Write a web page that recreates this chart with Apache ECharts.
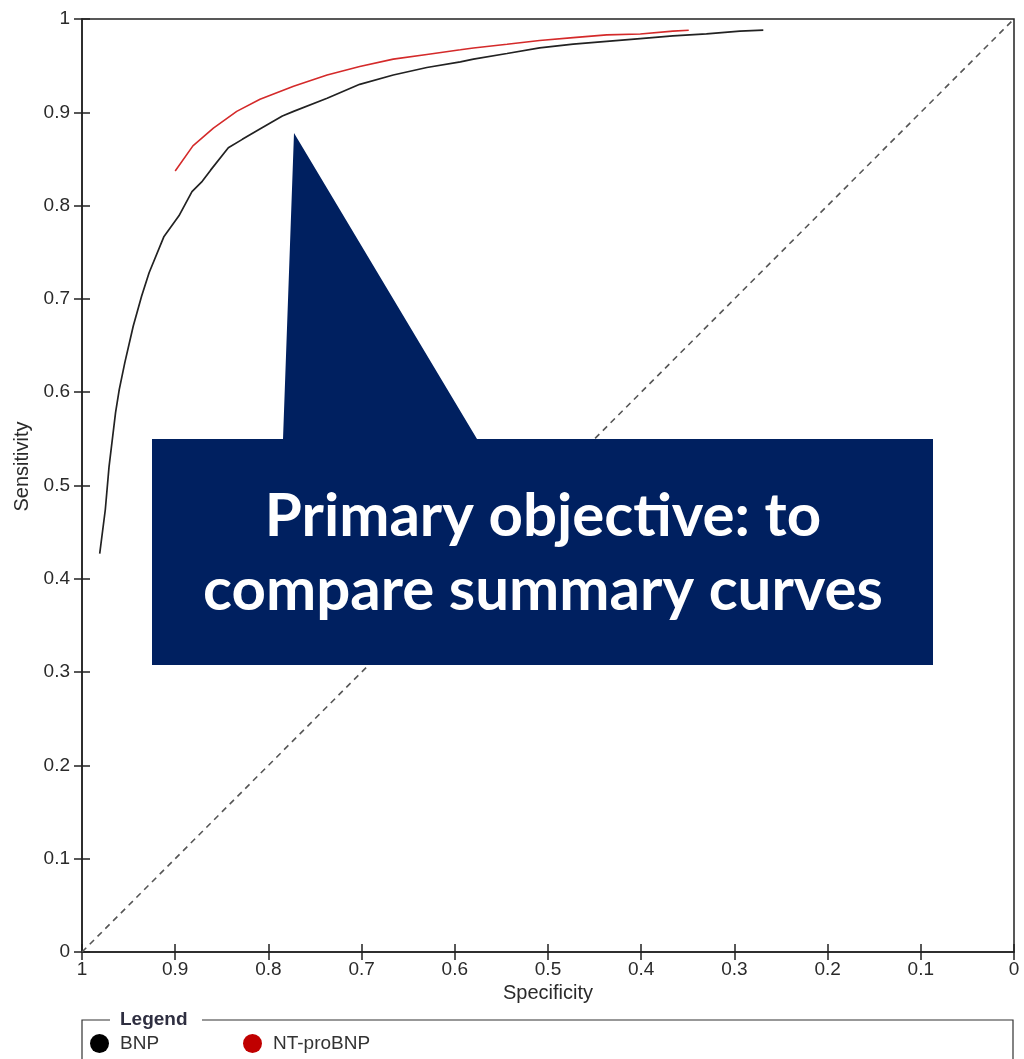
<!DOCTYPE html>
<html>
<head>
<meta charset="utf-8">
<script src="https://cdn.jsdelivr.net/npm/echarts@6/dist/echarts.min.js"></script>
<style>
  html, body { margin: 0; padding: 0; background: #fff; }
  #chart { width: 1024px; height: 1059px; }
</style>
</head>
<body>
<div id="chart"></div>
<script>
// Summary ROC curves: [specificity, sensitivity]
const bnpCurve = [
  [0.981, 0.427], [0.975, 0.474], [0.971, 0.520], [0.964, 0.578], [0.960, 0.603],
  [0.954, 0.632], [0.945, 0.671], [0.936, 0.703], [0.928, 0.728], [0.912, 0.767],
  [0.896, 0.789], [0.882, 0.815], [0.871, 0.826], [0.862, 0.838], [0.843, 0.862],
  [0.828, 0.871], [0.811, 0.881], [0.785, 0.896], [0.773, 0.901], [0.737, 0.915],
  [0.702, 0.930], [0.666, 0.940], [0.630, 0.948], [0.594, 0.954], [0.580, 0.957],
  [0.544, 0.963], [0.509, 0.969], [0.473, 0.973], [0.437, 0.976], [0.401, 0.979],
  [0.366, 0.982], [0.330, 0.984], [0.294, 0.987], [0.269, 0.988]
];
const ntProBnpCurve = [
  [0.900, 0.837], [0.881, 0.864], [0.859, 0.883], [0.834, 0.901], [0.809, 0.914],
  [0.773, 0.928], [0.737, 0.940], [0.702, 0.949], [0.666, 0.957], [0.630, 0.962],
  [0.594, 0.967], [0.580, 0.969], [0.544, 0.973], [0.509, 0.977], [0.473, 0.980],
  [0.437, 0.983], [0.401, 0.984], [0.366, 0.987], [0.349, 0.988]
];
// Line of no discrimination
const chanceLine = [[1, 0], [0, 1]];
const seriesNames = ['BNP', 'NT-proBNP'];
const calloutLines = ['Primary objective: to', 'compare summary curves'];

const chart = echarts.init(document.getElementById('chart'), null, { renderer: 'canvas' });

const GRID = { left: 82, right: 10, top: 19, bottom: 107 };
const FONT = '"Liberation Sans", Arial, sans-serif';
const AXIS_COLOR = '#222';
const TEXT_COLOR = '#2a2a2a';

function tickLabel(v) {
  return String(Math.round(v * 10) / 10);
}

function valueAxis(extra) {
  return Object.assign({
    type: 'value', min: 0, max: 1, interval: 0.1,
    splitLine: { show: false }
  }, extra);
}

const tickStyle = { color: AXIS_COLOR, width: 1.5 };

function legendFor(name, left) {
  return {
    left: left, top: 1034, padding: 0,
    icon: 'circle', itemWidth: 19, itemHeight: 19, itemGap: 0,
    textStyle: { fontFamily: FONT, fontSize: 19, color: '#333', padding: [0, 0, 0, 6] },
    data: [name]
  };
}

const option = {
  animation: false,
  backgroundColor: '#fff',
  // Two identical grids: the first carries the data and the outward ticks,
  // the second only adds inward ticks so every tick crosses the axis line.
  grid: [
    {
      left: GRID.left, right: GRID.right, top: GRID.top, bottom: GRID.bottom,
      show: true, borderColor: AXIS_COLOR, borderWidth: 1.5, backgroundColor: 'transparent'
    },
    { left: GRID.left, right: GRID.right, top: GRID.top, bottom: GRID.bottom }
  ],
  legend: [legendFor(seriesNames[0], 90), legendFor(seriesNames[1], 243)],
  xAxis: [
    valueAxis({
      gridIndex: 0, inverse: true, position: 'bottom',
      name: 'Specificity', nameLocation: 'middle', nameGap: 31,
      nameTextStyle: { fontFamily: FONT, fontSize: 20, color: TEXT_COLOR },
      axisLine: { show: true, onZero: false, lineStyle: { color: AXIS_COLOR, width: 1.5 } },
      axisTick: { show: true, inside: false, length: 8, lineStyle: tickStyle },
      axisLabel: { margin: 8, fontFamily: FONT, fontSize: 19, color: TEXT_COLOR, formatter: tickLabel }
    }),
    valueAxis({
      gridIndex: 1, inverse: true, position: 'bottom',
      axisLine: { show: false, onZero: false },
      axisTick: { show: true, inside: true, length: 8, lineStyle: tickStyle },
      axisLabel: { show: false }
    })
  ],
  yAxis: [
    valueAxis({
      gridIndex: 0, position: 'left',
      name: 'Sensitivity', nameLocation: 'middle', nameGap: 44,
      nameTextStyle: { fontFamily: FONT, fontSize: 20, color: TEXT_COLOR, padding: [0, 0, 0, 38] },
      axisLine: { show: true, onZero: false, lineStyle: { color: AXIS_COLOR, width: 1.5 } },
      axisTick: { show: true, inside: false, length: 8, lineStyle: tickStyle },
      axisLabel: { margin: 12, fontFamily: FONT, fontSize: 19, color: TEXT_COLOR, formatter: tickLabel }
    }),
    valueAxis({
      gridIndex: 1, position: 'left',
      axisLine: { show: false, onZero: false },
      axisTick: { show: true, inside: true, length: 8, lineStyle: tickStyle },
      axisLabel: { show: false }
    })
  ],
  series: [
    {
      name: 'chance', type: 'line', data: chanceLine, showSymbol: false, silent: true,
      xAxisIndex: 0, yAxisIndex: 0,
      lineStyle: { color: '#555', width: 1.6, type: [6, 5] }, z: 1
    },
    {
      name: seriesNames[0], type: 'line', data: bnpCurve, showSymbol: false,
      xAxisIndex: 0, yAxisIndex: 0,
      itemStyle: { color: '#000' },
      lineStyle: { color: '#222', width: 1.7 }, z: 2
    },
    {
      name: seriesNames[1], type: 'line', data: ntProBnpCurve, showSymbol: false,
      xAxisIndex: 0, yAxisIndex: 0,
      itemStyle: { color: '#c00000' },
      lineStyle: { color: '#d42a2a', width: 1.6 }, z: 2
    }
  ],
  graphic: [
    // legend frame with a gap for its caption
    {
      type: 'polyline', silent: true, z: 10,
      shape: { points: [[82, 1070], [82, 1020], [110, 1020]] },
      style: { stroke: '#333', lineWidth: 1.2, fill: null }
    },
    {
      type: 'polyline', silent: true, z: 10,
      shape: { points: [[202, 1020], [1013, 1020], [1013, 1070]] },
      style: { stroke: '#333', lineWidth: 1.2, fill: null }
    },
    {
      type: 'text', silent: true, z: 10, x: 120, y: 1020,
      style: { text: 'Legend', font: 'bold 19px ' + FONT, fill: '#2e2e40', verticalAlign: 'middle' }
    },
    // callout box with pointer
    {
      type: 'polygon', silent: true, z: 20,
      shape: { points: [[152, 439], [283, 439], [294, 133], [477, 439], [933, 439], [933, 665], [152, 665]] },
      style: { fill: '#002060' }
    },
    {
      type: 'text', silent: true, z: 21, x: 543, y: 554,
      style: {
        text: calloutLines.join('\n'),
        font: 'bold 60px Lato, "Open Sans", sans-serif',
        fill: '#ffffff', align: 'center', verticalAlign: 'middle', lineHeight: 74
      }
    }
  ]
};

chart.setOption(option);
</script>
</body>
</html>
